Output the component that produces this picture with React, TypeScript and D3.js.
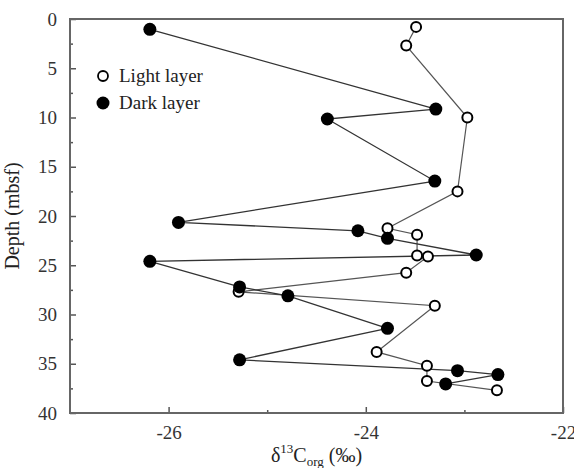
import * as d3 from "d3";
import { useEffect, useRef } from "react";

// light layer (open circles): d13C vs depth
const lightD13C = [-23.49, -23.59, -22.97, -23.07, -23.78, -23.48, -23.48, -23.37, -23.59, -25.29, -23.3, -23.89, -23.38, -23.38, -22.67];
const lightDepth = [0.8, 2.7, 10.0, 17.5, 21.25, 21.9, 24.0, 24.1, 25.75, 27.7, 29.1, 33.8, 35.2, 36.75, 37.7];

// dark layer (filled circles)
const darkD13C = [-26.19, -23.29, -24.39, -23.3, -25.9, -24.08, -23.78, -22.88, -26.19, -25.28, -24.79, -23.78, -25.28, -23.07, -22.66, -23.19];
const darkDepth = [1.05, 9.14, 10.15, 16.45, 20.65, 21.5, 22.27, 23.96, 24.6, 27.2, 28.1, 31.4, 34.6, 35.7, 36.1, 37.05];

const xTicks = [-26, -24, -22];
const yTicks = [0, 5, 10, 15, 20, 25, 30, 35, 40];

const App = () => {
  const ref = useRef<SVGSVGElement>(null);

  useEffect(() => {
    const svg = d3.select(ref.current);
    svg.selectAll("*").remove();

    const margin = { top: 19, right: 11, bottom: 55, left: 70 },
      width = 574 - margin.left - margin.right,
      height = 468 - margin.top - margin.bottom;

    const font = "Liberation Serif, Times New Roman, DejaVu Serif, serif";

    const g = svg
      .append("g")
      .attr("transform", `translate(${margin.left},${margin.top})`);

    const x = d3.scaleLinear().domain([-27, -22]).range([0, width]);
    const y = d3.scaleLinear().domain([0, 40]).range([0, height]);

    // Y axis (ticks pointing inward)
    const yAxis = g
      .append("g")
      .call(
        d3
          .axisLeft(y)
          .tickValues(yTicks)
          .tickSize(-6)
          .tickPadding(13)
          .tickFormat((d) => String(d))
      );
    yAxis.select(".domain").remove();
    yAxis.selectAll("line").attr("stroke", "#555").attr("stroke-width", 1.5);
    yAxis
      .selectAll("text")
      .style("font-family", font)
      .style("font-size", "19px")
      .attr("fill", "#333");
    // minor ticks
    g.append("g")
      .call(
        d3
          .axisLeft(y)
          .tickValues(d3.range(2.5, 40, 5))
          .tickSize(-3)
          .tickFormat("" as any)
      )
      .call((a) => a.select(".domain").remove())
      .selectAll("line")
      .attr("stroke", "#555")
      .attr("stroke-width", 1.5);

    // X axis
    const xAxis = g
      .append("g")
      .attr("transform", `translate(0,${height})`)
      .call(
        d3
          .axisBottom(x)
          .tickValues(xTicks)
          .tickSize(-6)
          .tickPadding(13)
          .tickFormat((d) => String(d))
      );
    xAxis.select(".domain").remove();
    xAxis.selectAll("line").attr("stroke", "#555").attr("stroke-width", 1.5);
    xAxis
      .selectAll("text")
      .style("font-family", font)
      .style("font-size", "19px")
      .attr("fill", "#333");
    g.append("g")
      .attr("transform", `translate(0,${height})`)
      .call(
        d3
          .axisBottom(x)
          .tickValues([-25, -23])
          .tickSize(-3)
          .tickFormat("" as any)
      )
      .call((a) => a.select(".domain").remove())
      .selectAll("line")
      .attr("stroke", "#555")
      .attr("stroke-width", 1.5);

    // frame
    g.append("rect")
      .attr("width", width)
      .attr("height", height)
      .attr("fill", "none")
      .attr("stroke", "#666")
      .attr("stroke-width", 2);

    const lightData = lightD13C.map((v, i) => ({ v, d: lightDepth[i] }));
    const darkData = darkD13C.map((v, i) => ({ v, d: darkDepth[i] }));

    const line = d3
      .line<{ v: number; d: number }>()
      .x((p) => x(p.v))
      .y((p) => y(p.d));

    g.append("path")
      .datum(lightData)
      .attr("d", line)
      .attr("fill", "none")
      .attr("stroke", "#555")
      .attr("stroke-width", 1.2);

    g.append("path")
      .datum(darkData)
      .attr("d", line)
      .attr("fill", "none")
      .attr("stroke", "#333")
      .attr("stroke-width", 1.3);

    g.selectAll(".light")
      .data(lightData)
      .enter()
      .append("circle")
      .attr("cx", (p) => x(p.v))
      .attr("cy", (p) => y(p.d))
      .attr("r", 5)
      .attr("fill", "#fff")
      .attr("stroke", "#000")
      .attr("stroke-width", 2);

    g.selectAll(".dark")
      .data(darkData)
      .enter()
      .append("circle")
      .attr("cx", (p) => x(p.v))
      .attr("cy", (p) => y(p.d))
      .attr("r", 6.5)
      .attr("fill", "#000");

    // legend
    const legend = g.append("g").attr("transform", "translate(33,57)");
    legend
      .append("circle")
      .attr("r", 5)
      .attr("fill", "#fff")
      .attr("stroke", "#000")
      .attr("stroke-width", 1.8);
    legend
      .append("text")
      .attr("x", 16)
      .attr("y", 6)
      .style("font-family", font)
      .style("font-size", "19px")
      .attr("fill", "#222")
      .text("Light layer");
    legend
      .append("circle")
      .attr("cy", 27)
      .attr("r", 6.5)
      .attr("fill", "#000");
    legend
      .append("text")
      .attr("x", 16)
      .attr("y", 33)
      .style("font-family", font)
      .style("font-size", "19px")
      .attr("fill", "#222")
      .text("Dark layer");

    // axis titles
    svg
      .append("text")
      .attr("transform", `translate(19,${margin.top + height / 2}) rotate(-90)`)
      .attr("text-anchor", "middle")
      .style("font-family", font)
      .style("font-size", "20px")
      .attr("fill", "#222")
      .text("Depth (mbsf)");

    const xt = svg
      .append("text")
      .attr("x", margin.left + width / 2)
      .attr("y", 462)
      .attr("text-anchor", "middle")
      .style("font-family", font)
      .style("font-size", "20px")
      .attr("fill", "#222");
    xt.append("tspan").text("δ");
    xt.append("tspan").style("font-size", "13px").attr("dy", -9).text("13");
    xt.append("tspan").attr("dy", 9).text("C");
    xt.append("tspan").style("font-size", "13px").attr("dy", 4).text("org");
    xt.append("tspan").attr("dy", -4).text(" (‰)");
  }, []);

  return (
    <svg
      ref={ref}
      width={574}
      height={468}
      style={{ position: "absolute", left: 0, top: 0, background: "#fff" }}
    />
  );
};

export default App;
